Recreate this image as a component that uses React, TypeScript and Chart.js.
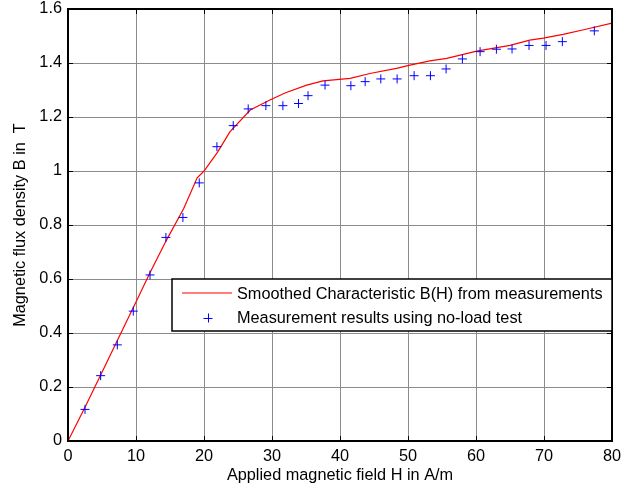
import React, { useEffect, useRef } from "react";
import { Chart, registerables } from "chart.js";

Chart.register(...registerables);

// Smoothed characteristic B(H)
const curveH = [0, 2.5, 5, 7.5, 10, 12, 14.5, 17, 19, 20, 22, 23.8, 26.8, 29.7, 32, 35.1, 37.5, 41.5, 44.4, 48.3, 50.3, 53.2, 55.7, 60.1, 65, 67.9, 69.9, 72.8, 76, 80];
const curveB = [0, 0.125, 0.255, 0.385, 0.515, 0.62, 0.745, 0.86, 0.975, 1.0, 1.07, 1.145, 1.226, 1.263, 1.29, 1.318, 1.334, 1.343, 1.361, 1.38, 1.392, 1.408, 1.417, 1.444, 1.465, 1.485, 1.492, 1.506, 1.524, 1.548];

// Measurement results (no-load test)
const measH = [0, 2.5, 4.8, 7.25, 9.6, 12.06, 14.4, 16.9, 19.3, 21.9, 24.3, 26.5, 29.1, 31.6, 33.9, 35.3, 37.8, 41.6, 43.7, 46.0, 48.4, 50.9, 53.3, 55.6, 58.0, 60.6, 63.0, 65.3, 67.8, 70.3, 72.7, 77.4];
const measB = [0, 0.117, 0.242, 0.356, 0.481, 0.615, 0.754, 0.828, 0.956, 1.09, 1.168, 1.23, 1.242, 1.242, 1.25, 1.279, 1.318, 1.316, 1.331, 1.341, 1.341, 1.353, 1.353, 1.378, 1.415, 1.442, 1.451, 1.452, 1.465, 1.465, 1.479, 1.519];

const xTicks = [0, 10, 20, 30, 40, 50, 60, 70, 80];
const xTickLabels = ["0", "10", "20", "30", "40", "50", "60", "70", "80"];
const yTicks = [0, 0.2, 0.4, 0.6, 0.8, 1, 1.2, 1.4, 1.6];
const yTickLabels = ["0", "0.2", "0.4", "0.6", "0.8", "1", "1.2", "1.4", "1.6"];

const curveLabel = "Smoothed Characteristic B(H) from measurements";
const measLabel = "Measurement results using no-load test";
const xTitle = "Applied magnetic field H in A/m";
const yTitle = "Magnetic flux density B in  T";

const CURVE_COLOR = "#ff0000";
const MEAS_COLOR = "#0000ff";
const FONT = "'Liberation Sans', Arial, sans-serif";
const FSIZE = 16.3;

const framePlugin = {
  id: "matlabFrame",
  afterDraw(chart: any) {
    const { ctx, chartArea: a, scales } = chart;
    ctx.save();
    // inward ticks
    ctx.strokeStyle = "#000";
    ctx.lineWidth = 1;
    ctx.beginPath();
    for (const v of xTicks) {
      const px = Math.round(scales.x.getPixelForValue(v)) + 0.5;
      ctx.moveTo(px, a.bottom);
      ctx.lineTo(px, a.bottom - 5);
      ctx.moveTo(px, a.top);
      ctx.lineTo(px, a.top + 5);
    }
    for (const v of yTicks) {
      const py = Math.round(scales.y.getPixelForValue(v)) + 0.5;
      ctx.moveTo(a.left, py);
      ctx.lineTo(a.left + 5, py);
      ctx.moveTo(a.right, py);
      ctx.lineTo(a.right - 5, py);
    }
    ctx.stroke();
    // box
    ctx.lineWidth = 2;
    ctx.strokeRect(a.left, a.top, a.right - a.left, a.bottom - a.top);

    // legend
    const lx = a.left + 104;
    const ly = 279;
    const lw = a.right - lx;
    const lh = 52;
    ctx.fillStyle = "#fff";
    ctx.fillRect(lx, ly, lw, lh);
    ctx.lineWidth = 1.5;
    ctx.strokeStyle = "#000";
    ctx.strokeRect(lx, ly, lw, lh);

    // row 1: red line
    ctx.strokeStyle = CURVE_COLOR;
    ctx.lineWidth = 1.2;
    ctx.beginPath();
    ctx.moveTo(lx + 10, ly + 14);
    ctx.lineTo(lx + 60, ly + 14);
    ctx.stroke();
    // row 2: cross
    const cx = lx + 36;
    const cy = ly + 39;
    ctx.strokeStyle = MEAS_COLOR;
    ctx.lineWidth = 1;
    ctx.beginPath();
    ctx.moveTo(cx - 4.5, cy + 0.5);
    ctx.lineTo(cx + 4.5, cy + 0.5);
    ctx.moveTo(cx + 0.5, cy - 4.5);
    ctx.lineTo(cx + 0.5, cy + 4.5);
    ctx.stroke();

    ctx.fillStyle = "#000";
    ctx.font = `${FSIZE}px ${FONT}`;
    ctx.textBaseline = "middle";
    ctx.textAlign = "left";
    ctx.fillText(curveLabel, lx + 65, ly + 16);
    ctx.fillText(measLabel, lx + 65, ly + 40);
    ctx.restore();
  },
};

export default function App() {
  const ref = useRef<HTMLCanvasElement | null>(null);

  useEffect(() => {
    document.body.style.margin = "0";
    const canvas = ref.current;
    if (!canvas) return;
    const chart = new Chart(canvas, {
      type: "scatter",
      data: {
        datasets: [
          {
            label: curveLabel,
            data: curveH.map((h, i) => ({ x: h, y: curveB[i] })),
            showLine: true,
            borderColor: CURVE_COLOR,
            backgroundColor: CURVE_COLOR,
            borderWidth: 1.2,
            pointRadius: 0,
            tension: 0,
            order: 2,
          },
          {
            label: measLabel,
            data: measH.map((h, i) => ({ x: h, y: measB[i] })),
            showLine: false,
            borderColor: MEAS_COLOR,
            backgroundColor: MEAS_COLOR,
            pointStyle: "cross",
            pointRadius: 4.5,
            borderWidth: 1,
            order: 1,
          },
        ],
      },
      options: {
        responsive: false,
        devicePixelRatio: 1,
        animation: false,
        layout: { padding: { top: 9, right: 17, left: 0, bottom: 0 } },
        plugins: {
          legend: { display: false },
          tooltip: { enabled: false },
        },
        scales: {
          x: {
            type: "linear",
            min: 0,
            max: 80,
            afterBuildTicks: (s: any) => {
              s.ticks = xTicks.map((v) => ({ value: v }));
            },
            afterFit: (s: any) => {
              s.height = 45;
              s.paddingLeft = 0;
              s.paddingRight = 0;
            },
            ticks: {
              callback: (_v: any, i: number) => xTickLabels[i],
              font: { family: FONT, size: FSIZE },
              color: "#000",
              padding: 6,
              maxRotation: 0,
              autoSkip: false,
            },
            grid: { color: "#8c8c8c", lineWidth: 1, drawTicks: false },
            border: { display: false },
            title: {
              display: true,
              text: xTitle,
              font: { family: FONT, size: FSIZE },
              color: "#000",
              padding: { top: 0, bottom: 1 },
            },
          },
          y: {
            type: "linear",
            min: 0,
            max: 1.6,
            afterBuildTicks: (s: any) => {
              s.ticks = yTicks.map((v) => ({ value: v }));
            },
            afterFit: (s: any) => {
              s.width = 68;
              s.paddingTop = 0;
              s.paddingBottom = 0;
            },
            ticks: {
              callback: (_v: any, i: number) => yTickLabels[i],
              font: { family: FONT, size: FSIZE },
              color: "#000",
              padding: 6,
              autoSkip: false,
            },
            grid: { color: "#8c8c8c", lineWidth: 1, drawTicks: false },
            border: { display: false },
            title: {
              display: true,
              text: yTitle,
              font: { family: FONT, size: FSIZE },
              color: "#000",
              padding: { top: 11, bottom: 0 },
            },
          },
        },
      },
      plugins: [framePlugin],
    });
    return () => chart.destroy();
  }, []);

  return (
    <div style={{ width: 629, height: 486, background: "#fff" }}>
      <canvas ref={ref} width={629} height={486} style={{ display: "block", width: 629, height: 486 }} />
    </div>
  );
}
